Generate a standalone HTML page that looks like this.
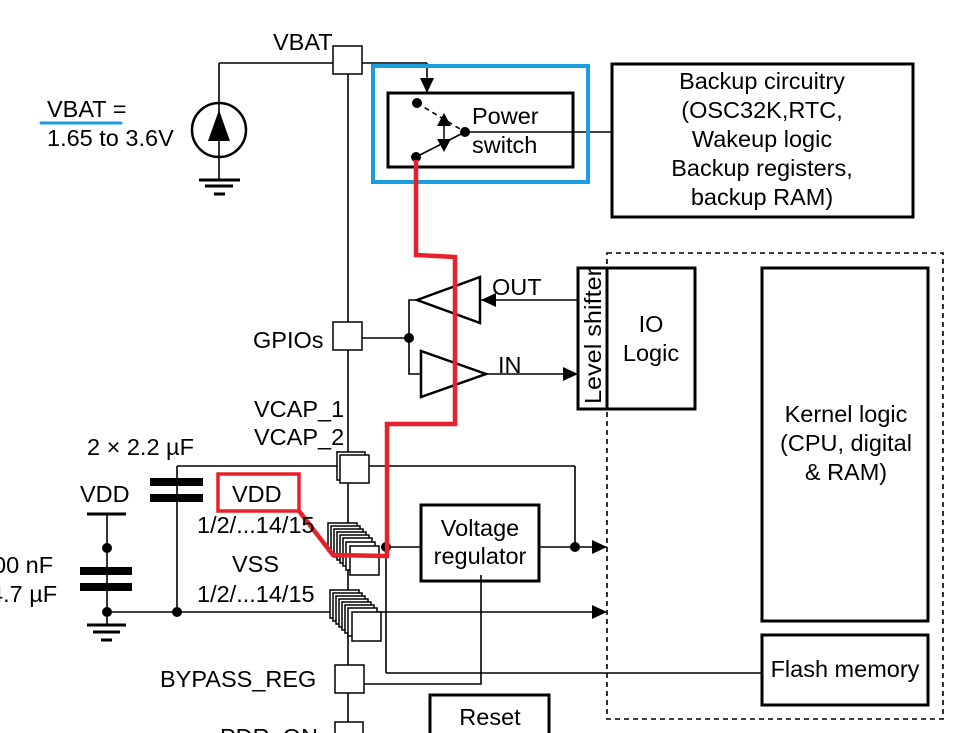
<!DOCTYPE html>
<html><head><meta charset="utf-8"><style>
html,body{margin:0;padding:0;background:#fff;}
svg{display:block;}
text{font-family:"Liberation Sans",Arial,sans-serif;font-size:23.5px;fill:#000;}
</style></head><body>
<svg width="957" height="733" viewBox="0 0 957 733" xmlns="http://www.w3.org/2000/svg">
<defs>
<marker id="ar2" markerWidth="16" markerHeight="14" refX="15" refY="7" orient="auto" markerUnits="userSpaceOnUse">
<path d="M0,0 L15,7 L0,14 z" fill="#000"/></marker>
</defs>
<g stroke="#000" stroke-width="1.6" fill="none">
<line x1="348" y1="74" x2="348" y2="733"/>
<line x1="333" y1="63" x2="219" y2="63"/>
<line x1="219" y1="63" x2="219" y2="180"/>
<circle cx="219" cy="130" r="27" stroke-width="2.5"/>
<line x1="362" y1="63" x2="427" y2="63"/>
<line x1="427" y1="63" x2="427" y2="93" marker-end="url(#ar2)"/>
<rect x="388" y="93" width="185" height="74" stroke-width="3"/>
<line x1="417" y1="103" x2="465" y2="132" stroke-dasharray="5,4"/>
<line x1="416" y1="157" x2="465" y2="132"/>
<line x1="465" y1="132" x2="612" y2="132"/>
<rect x="612" y="64" width="301" height="153" stroke-width="3"/>
<line x1="362" y1="338" x2="409" y2="338"/>
<polyline points="418,300 409,300 409,374 421,374"/>
<line x1="578" y1="300" x2="481" y2="300" marker-end="url(#ar2)"/>
<polygon points="417,300 480,277 480,323" stroke-width="2.5" fill="#fff"/>
<polygon points="421,351 421,397 486,374" stroke-width="2.5" fill="#fff"/>
<line x1="486" y1="374" x2="578" y2="374" marker-end="url(#ar2)"/>
<rect x="578" y="268" width="29" height="141" stroke-width="3"/>
<rect x="607" y="268" width="88" height="141" stroke-width="3"/>
<rect x="607" y="253" width="336" height="466" stroke-dasharray="5,4"/>
<rect x="762" y="268" width="166" height="353" stroke-width="3"/>
<rect x="762" y="635" width="166" height="70" stroke-width="3"/>
<line x1="177" y1="466" x2="337" y2="466"/>
<line x1="369" y1="466" x2="575" y2="466"/>
<line x1="575" y1="466" x2="575" y2="547"/>
<line x1="386" y1="547" x2="421" y2="547"/>
<rect x="421" y="505" width="118" height="76" stroke-width="3"/>
<line x1="539" y1="547" x2="607" y2="547" marker-end="url(#ar2)"/>
<line x1="386" y1="547" x2="386" y2="673"/>
<line x1="386" y1="673" x2="762" y2="673"/>
<polyline points="481,575 481,684 364,684"/>
<line x1="107" y1="612" x2="607" y2="612" marker-end="url(#ar2)"/>
<line x1="87" y1="514" x2="126" y2="514" stroke-width="3"/>
<line x1="107" y1="514" x2="107" y2="625"/>
<line x1="80" y1="571" x2="132" y2="571" stroke-width="8"/>
<line x1="80" y1="587" x2="132" y2="587" stroke-width="8"/>
<line x1="87" y1="625" x2="126" y2="625" stroke-width="3"/>
<line x1="93" y1="632" x2="120" y2="632" stroke-width="3"/>
<line x1="101" y1="640" x2="112" y2="640" stroke-width="3"/>
<line x1="177" y1="466" x2="177" y2="612"/>
<line x1="150" y1="482" x2="203" y2="482" stroke-width="8"/>
<line x1="150" y1="498" x2="203" y2="498" stroke-width="8"/>
<line x1="199" y1="180" x2="240" y2="180" stroke-width="3"/>
<line x1="205" y1="186" x2="233" y2="186" stroke-width="3"/>
<line x1="214" y1="194" x2="225" y2="194" stroke-width="3"/>
<rect x="430" y="695" width="119" height="50" stroke-width="3"/>
</g>
<polygon points="219,110 208,141 230,141" fill="#000"/>
<g fill="#000">
<circle cx="417" cy="103" r="5"/><circle cx="416" cy="157" r="5"/><circle cx="465" cy="132" r="5"/>
<circle cx="409" cy="338" r="5"/><circle cx="386" cy="547" r="5"/><circle cx="575" cy="547" r="5"/>
<circle cx="107" cy="548" r="5"/><circle cx="107" cy="612" r="5"/><circle cx="177" cy="612" r="5"/>
<polygon points="444,113 437,126 451,126"/><polygon points="444,152 437,139 451,139"/>
</g>
<line x1="444" y1="124" x2="444" y2="141" stroke="#000" stroke-width="1.5"/>
<g stroke="#000" stroke-width="1.5" fill="#fff">
<rect x="333" y="46" width="29" height="28"/>
<rect x="333" y="322" width="29" height="28"/>
<rect x="337" y="452" width="28" height="28"/>
<rect x="340" y="455" width="29" height="28"/>
<rect x="328" y="523" width="29" height="28"/><rect x="331" y="526" width="29" height="28"/><rect x="334" y="529" width="29" height="28"/><rect x="337" y="532" width="29" height="28"/><rect x="340" y="535" width="29" height="28"/><rect x="343" y="538" width="29" height="28"/><rect x="346" y="542" width="29" height="28"/><rect x="350" y="546" width="29" height="29"/>
<rect x="330" y="590" width="29" height="28"/><rect x="333" y="593" width="29" height="28"/><rect x="336" y="596" width="29" height="28"/><rect x="339" y="599" width="29" height="28"/><rect x="342" y="602" width="29" height="28"/><rect x="345" y="605" width="29" height="28"/><rect x="348" y="608" width="29" height="28"/><rect x="352" y="612" width="29" height="29"/>
<rect x="335" y="665" width="29" height="28"/>
<rect x="335" y="722" width="28" height="28"/>
</g>
<rect x="373" y="66" width="215" height="116" fill="none" stroke="#1a9ee0" stroke-width="4"/>
<line x1="41" y1="123" x2="121" y2="123" stroke="#1a9ee0" stroke-width="3" stroke-linecap="round"/>
<rect x="218" y="474" width="81" height="37" fill="none" stroke="#e8202a" stroke-width="3.5"/>
<polyline points="416,160 416,255 455,257 455,424 387,424 387,556 333,555 299,511" fill="none" stroke="#e8202a" stroke-width="4.5"/>
<text x="273" y="50">VBAT</text>
<text x="47" y="117">VBAT =</text>
<text x="47" y="146">1.65 to 3.6V</text>
<text x="472" y="124">Power</text>
<text x="472" y="153">switch</text>
<g text-anchor="middle">
<text x="762" y="89">Backup circuitry</text>
<text x="762" y="118">(OSC32K,RTC,</text>
<text x="762" y="147">Wakeup logic</text>
<text x="762" y="176">Backup registers,</text>
<text x="762" y="205">backup RAM)</text>
<text x="651" y="332">IO</text>
<text x="651" y="361">Logic</text>
<text x="846" y="422">Kernel logic</text>
<text x="846" y="451">(CPU, digital</text>
<text x="846" y="480">&amp; RAM)</text>
<text x="845" y="677">Flash memory</text>
<text x="480" y="536">Voltage</text>
<text x="480" y="564">regulator</text>
<text x="490" y="725">Reset</text>
</g>
<text x="0" y="0" transform="translate(601,404) rotate(-90)" textLength="136" lengthAdjust="spacingAndGlyphs">Level shifter</text>
<text x="492" y="295">OUT</text>
<text x="498" y="373">IN</text>
<text x="253" y="348">GPIOs</text>
<text x="254" y="417">VCAP_1</text>
<text x="254" y="445">VCAP_2</text>
<text x="87" y="455">2 × 2.2 µF</text>
<text x="80" y="502">VDD</text>
<text x="232" y="502">VDD</text>
<text x="197" y="533">1/2/...14/15</text>
<text x="232" y="572">VSS</text>
<text x="197" y="602">1/2/...14/15</text>
<text x="-7" y="573">00 nF</text>
<text x="-10" y="602">4.7 µF</text>
<text x="160" y="687">BYPASS_REG</text>
<text x="220" y="745">PDR_ON</text>
</svg>
</body></html>
